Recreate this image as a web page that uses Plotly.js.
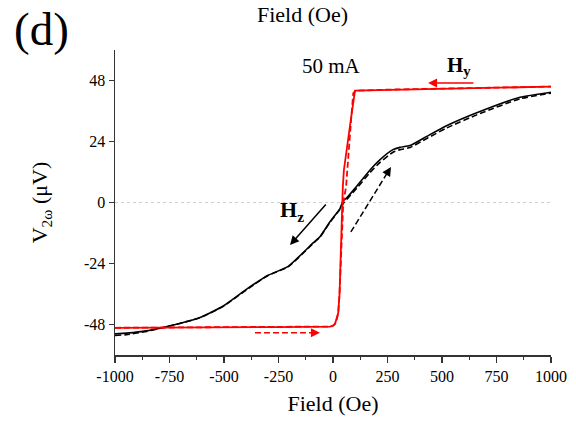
<!DOCTYPE html>
<html>
<head>
<meta charset="utf-8">
<script src="https://cdn.plot.ly/plotly-3.0.1.min.js"></script>
<style>html,body{margin:0;padding:0;background:#fff;}#chart{width:576px;height:425px;}</style>
</head>
<body>
<div id="chart"></div>
<script>
// Hy sweep (red): down sweep (solid) and up sweep (dashed)
const hyDownField = [1000, 750, 500, 250, 101, 86, 70, 50, 45, 43, 37, 30, 24, 15, 9, 0, -14, -250, -500, -750, -1000];
const hyDownV     = [45.6, 45.2, 44.8, 44.4, 44.0, 35.2, 24.6, 12.8, 6.0, 0.0, -22.6, -36.0, -43.5, -46.8, -47.8, -48.5, -48.8, -49.0, -49.1, -49.2, -49.3];
const hyUpField   = [-1000, -750, -500, -250, -14, 0, 9, 15, 24, 30, 37, 44, 47, 60, 71, 83, 93, 105, 250, 500, 750, 1000];
const hyUpV       = [-49.3, -49.2, -49.1, -49.0, -48.8, -48.5, -47.8, -46.8, -43.5, -36.0, -22.6, -4.0, 0.0, 6.2, 20.7, 32.5, 43.0, 44.0, 44.4, 44.8, 45.2, 45.6];
// Hz sweep (black): down sweep (solid) and up sweep (dashed)
const hzDownField = [1000, 858, 674, 521, 430, 353, 307, 275, 216, 170, 109, 63, 46, 32, -14, -60, -90, -204, -304, -396, -503, -610, -748, -855, -947, -1000];
const hzDownV     = [43.4, 41.4, 35.8, 30.2, 26.0, 22.4, 21.7, 20.8, 16.9, 12.8, 6.4, 1.8, 0.6, -2.4, -7.6, -13.5, -15.8, -25.0, -28.9, -34.1, -40.7, -45.2, -48.5, -50.5, -51.4, -51.7];
const hzUpField   = [-1000, -947, -855, -748, -610, -503, -396, -304, -204, -90, -60, -14, 32, 50, 63, 109, 170, 216, 275, 307, 353, 430, 521, 674, 858, 1000];
const hzUpV       = [-52.3, -52.0, -50.7, -48.6, -45.3, -40.8, -34.3, -29.0, -25.2, -16.0, -13.6, -7.8, -2.6, 0.0, 1.2, 5.6, 11.8, 15.8, 19.8, 20.8, 21.6, 25.2, 29.3, 35.0, 40.8, 43.0];

const xTicks = [-1000, -750, -500, -250, 0, 250, 500, 750, 1000];
const yTicks = [-48, -24, 0, 24, 48];

const FONT = '"Liberation Serif", "Times New Roman", Times, serif';
const RED = '#ff0000';
const BLACK = '#000000';
const AX = '#333333';

const traces = [
  {x: hzDownField, y: hzDownV, mode: 'lines', line: {color: BLACK, width: 1.6, shape: 'spline', smoothing: 0.5}, hoverinfo: 'skip'},
  {x: hzUpField, y: hzUpV, mode: 'lines', line: {color: BLACK, width: 1.6, dash: '6px,3px', shape: 'spline', smoothing: 0.5}, hoverinfo: 'skip'},
  {x: hyUpField, y: hyUpV, mode: 'lines', line: {color: RED, width: 1.8, dash: '6px,3px'}, hoverinfo: 'skip'},
  {x: hyDownField, y: hyDownV, mode: 'lines', line: {color: RED, width: 1.8}, hoverinfo: 'skip'}
];

// annotation arrows (start -> tip), in data units
const hyArrow = {x0: 651, y0: 47.0, x1: 436, y1: 47.0};
const hzArrow = {x0: -27, y0: -0.2, x1: -197, y1: -16.7};
const hzUpArrow = {x0: 82, y0: -11.6, x1: 266, y1: 14.0};
const hyUpArrow = {x0: -358, y0: -51.2, x1: -60, y1: -51.2};

function headOnly(a, color) {
  const f = 0.12;
  return {x: a.x1, y: a.y1, ax: a.x1 - (a.x1 - a.x0) * f, ay: a.y1 - (a.y1 - a.y0) * f,
    xref: 'x', yref: 'y', axref: 'x', ayref: 'y', text: '', showarrow: true,
    arrowhead: 2, arrowsize: 1.2, arrowwidth: 1.5, arrowcolor: color, standoff: 0, startstandoff: 0};
}
function fullArrow(a, color) {
  return {x: a.x1, y: a.y1, ax: a.x0, ay: a.y0, xref: 'x', yref: 'y', axref: 'x', ayref: 'y',
    text: '', showarrow: true, arrowhead: 2, arrowsize: 1.2, arrowwidth: 1.5, arrowcolor: color, standoff: 0};
}
function dashBody(a, color) {
  return {type: 'line', xref: 'x', yref: 'y', x0: a.x0, y0: a.y0,
    x1: a.x1 - (a.x1 - a.x0) * 0.1, y1: a.y1 - (a.y1 - a.y0) * 0.1,
    line: {color: color, width: 1.5, dash: '6px,3px'}};
}

const layout = {
  width: 576, height: 425,
  margin: {l: 115, r: 25, t: 50, b: 70},
  paper_bgcolor: '#ffffff', plot_bgcolor: '#ffffff',
  showlegend: false,
  font: {family: FONT, color: '#000'},
  xaxis: {
    range: [-1000, 1000], tickvals: xTicks, ticktext: xTicks.map(String),
    ticks: 'outside', ticklen: 6, tickwidth: 1.5, tickcolor: AX,
    showline: true, linecolor: AX, linewidth: 1.5, mirror: false,
    showgrid: false, zeroline: false,
    tickfont: {family: FONT, size: 16, color: '#000'},
    minor: {ticks: 'outside', ticklen: 3, tickwidth: 1.2, tickcolor: AX, tick0: -1000, dtick: 125, showgrid: false},
    title: {text: 'Field (Oe)', font: {family: FONT, size: 22, color: '#000'}, standoff: 12},
    automargin: false, fixedrange: true
  },
  yaxis: {
    range: [-60, 60], tickvals: yTicks, ticktext: yTicks.map(String),
    ticks: 'outside', ticklen: 5, tickwidth: 1.5, tickcolor: AX,
    showline: true, linecolor: AX, linewidth: 1.5,
    showgrid: false, zeroline: false,
    tickfont: {family: FONT, size: 16, color: '#000'},
    title: {text: 'V<sub>2ω</sub> (μV)', font: {family: FONT, size: 22, color: '#000'}, standoff: 30},
    automargin: false, fixedrange: true
  },
  shapes: [
    {type: 'line', xref: 'paper', x0: 0, x1: 1, yref: 'y', y0: 0, y1: 0, layer: 'below',
     line: {color: '#d0d0d0', width: 1, dash: 'dot'}},
    dashBody(hzUpArrow, BLACK),
    dashBody(hyUpArrow, RED)
  ],
  annotations: [
    {text: '(d)', xref: 'paper', yref: 'paper', x: -0.169, y: 1.068, showarrow: false,
     xanchor: 'center', yanchor: 'middle', font: {family: FONT, size: 47, color: '#000'}},
    {text: 'Field (Oe)', xref: 'paper', yref: 'paper', x: 0.429, y: 1.118, showarrow: false,
     xanchor: 'center', yanchor: 'middle', font: {family: FONT, size: 22, color: '#000'}},
    {text: '50 mA', xref: 'x', yref: 'y', x: -5, y: 53.7, showarrow: false,
     xanchor: 'center', yanchor: 'middle', font: {family: FONT, size: 21, color: '#000'}},
    {text: '<b>H<sub>y</sub></b>', xref: 'x', yref: 'y', x: 580, y: 53.8, showarrow: false,
     xanchor: 'center', yanchor: 'middle', font: {family: FONT, size: 21, color: '#000'}},
    {text: '<b>H<sub>z</sub></b>', xref: 'x', yref: 'y', x: -188, y: -3.5, showarrow: false,
     xanchor: 'center', yanchor: 'middle', font: {family: FONT, size: 22, color: '#000'}},
    fullArrow(hyArrow, RED),
    fullArrow(hzArrow, BLACK),
    headOnly(hzUpArrow, BLACK),
    headOnly(hyUpArrow, RED)
  ]
};

Plotly.newPlot('chart', traces, layout, {displayModeBar: false, staticPlot: true});
</script>
</body>
</html>
